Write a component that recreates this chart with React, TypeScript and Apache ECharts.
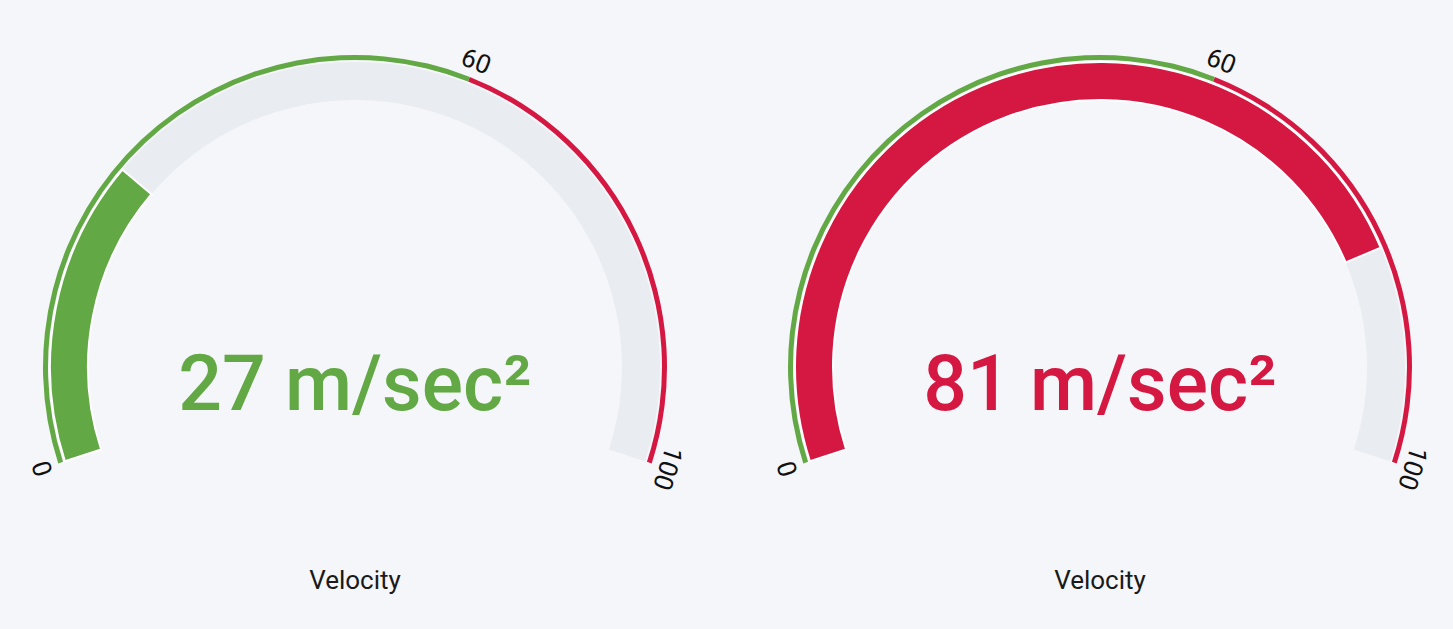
import React, { useEffect, useRef } from 'react';
import * as echarts from 'echarts';

// gauge data
const gaugeNames = ['Velocity', 'Velocity'];
const gaugeValues = [27, 81];
const gaugeCenters = [355, 1100];
const axisMin = 0;
const axisMax = 100;
const thresholdValue = 60;
const shownTicks = [0, 60, 100];
const unitText = 'm/sec²';

const GREEN = '#62a844';
const RED = '#d41842';
const TRACK = '#e9ecf0';

const App: React.FC = () => {
  const chartRef = useRef<HTMLDivElement>(null);

  useEffect(() => {
    document.body.style.margin = '0';
    if (!chartRef.current) return;
    const chart = echarts.init(chartRef.current, null, { renderer: 'svg' });

    const colorOf = (v: number) => (v >= thresholdValue ? RED : GREEN);
    const common = {
      type: 'gauge',
      min: axisMin,
      max: axisMax,
      startAngle: 198,
      endAngle: -18,
      splitNumber: 5,
      pointer: { show: false },
      anchor: { show: false },
      axisTick: { show: false },
    };

    const series: any[] = [];
    gaugeValues.forEach((value, i) => {
      const center = [gaugeCenters[i], 367];
      // outer thin threshold arc with labels
      series.push({
        ...common,
        center,
        radius: 312,
        axisLine: {
          lineStyle: {
            width: 5,
            color: [
              [thresholdValue / axisMax, GREEN],
              [1, RED],
            ],
          },
        },
        splitLine: { show: false, length: 0 },
        axisLabel: {
          show: true,
          distance: -27,
          rotate: 'tangential',
          color: '#111',
          fontSize: 26,
          fontFamily: 'Roboto',
          formatter: (v: number) => (shownTicks.includes(Math.round(v)) ? String(Math.round(v)) : ''),
        },
        title: { show: false },
        detail: { show: false },
        data: [{ value: 0 }],
      });
      // thick progress bar
      series.push({
        ...common,
        center,
        radius: 305,
        axisLine: { lineStyle: { width: 38, color: [[1, TRACK]] } },
        progress: {
          show: true,
          width: 38,
          itemStyle: { color: colorOf(value), borderColor: '#ffffff', borderWidth: 2 },
        },
        splitLine: { show: false },
        axisLabel: { show: false },
        title: {
          show: true,
          offsetCenter: [0, 213],
          fontSize: 26,
          color: '#1a1a1a',
          fontFamily: 'Roboto',
        },
        detail: {
          show: true,
          offsetCenter: [0, 17],
          fontSize: 77,
          fontWeight: 500,
          fontFamily: 'Roboto',
          color: colorOf(value),
          formatter: (v: number) => `${v} ${unitText}`,
        },
        data: [{ value, name: gaugeNames[i] }],
      });
    });

    chart.setOption({
      backgroundColor: '#f5f6f9',
      animation: false,
      series,
    });

    return () => {
      chart.dispose();
    };
  }, []);

  return <div ref={chartRef} style={{ width: '1453px', height: '629px' }} />;
};

export default App;
